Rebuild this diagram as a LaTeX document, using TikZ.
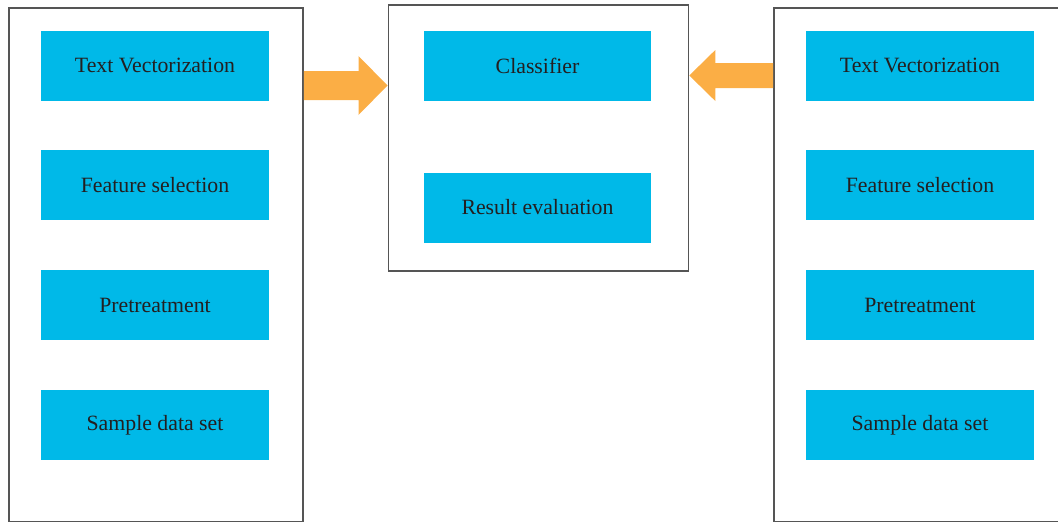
\documentclass[tikz,border=0pt]{standalone}
\usepackage{fontspec}
\setmainfont{Liberation Serif}
\usetikzlibrary{calc}
\definecolor{boxblue}{RGB}{0,185,232}
\definecolor{arroworange}{RGB}{251,174,69}
\definecolor{framegray}{RGB}{85,85,85}
\definecolor{txt}{RGB}{35,31,32}
\tikzset{
  frame/.style={draw=framegray, line width=1.8pt, fill=none},
  bluebox/.style={fill=boxblue, draw=none, minimum width=228pt, minimum height=70pt, inner sep=0pt, text=txt, font=\fontsize{21.8}{26}\selectfont},
  blockarrow/.style={fill=arroworange, draw=none}
}
\begin{document}
\begin{tikzpicture}[x=1pt,y=-1pt]
\useasboundingbox (0,0) rectangle (1058,522);
% outer frames
\node[frame, minimum width=294pt, minimum height=514pt, inner sep=0pt, anchor=north west] (L) at (8,7) {};
\node[frame, minimum width=300pt, minimum height=266pt, inner sep=0pt, anchor=north west] (M) at (387.5,4) {};
\node[frame, minimum width=300pt, minimum height=514pt, inner sep=0pt, anchor=north west] (R) at (773,7) {};
% left column
\node[bluebox] (l1) at (155,65.5) {Text Vectorization};
\node[bluebox] (l2) at (155,185) {Feature selection};
\node[bluebox] (l3) at (155,305) {Pretreatment};
\node[bluebox] (l4) at (155,425) {Sample data set};
% middle
\node[bluebox, minimum width=227pt] (m1) at (537.5,65.5) {Classifier};
\node[bluebox, minimum width=227pt] (m2) at (537.5,207.5) {Result evaluation};
% right column
\node[bluebox] (r1) at (920,65.5) {Text Vectorization};
\node[bluebox] (r2) at (920,185) {Feature selection};
\node[bluebox] (r3) at (920,305) {Pretreatment};
\node[bluebox] (r4) at (920,425) {Sample data set};
% block arrows
\coordinate (la) at (L.east |- 0,85.5);
\coordinate (ma) at (M.west |- 0,85.5);
\fill[blockarrow] ($(la)+(0,-14.5)$) -- ($(ma)+(-29,-14.5)$) -- ($(ma)+(-29,-29.5)$) -- (ma)
  -- ($(ma)+(-29,29.5)$) -- ($(ma)+(-29,14.5)$) -- ($(la)+(0,14.5)$) -- cycle;
\coordinate (ra) at (R.west |- 0,75.5);
\coordinate (mb) at (M.east |- 0,75.5);
\fill[blockarrow] ($(ra)+(0,-12.5)$) -- ($(mb)+(26,-12.5)$) -- ($(mb)+(26,-25.5)$) -- (mb)
  -- ($(mb)+(26,25.5)$) -- ($(mb)+(26,12.5)$) -- ($(ra)+(0,12.5)$) -- cycle;
\end{tikzpicture}
\end{document}
